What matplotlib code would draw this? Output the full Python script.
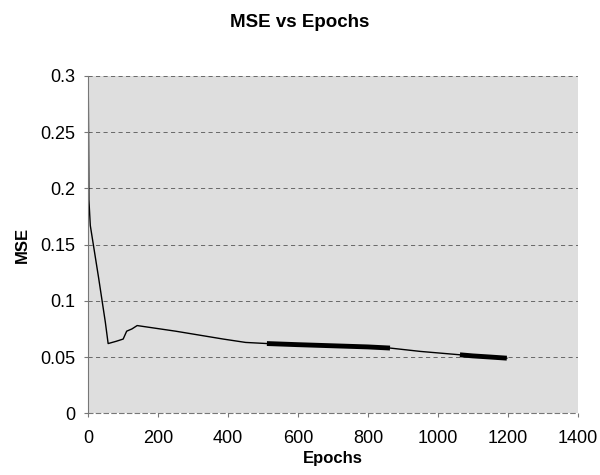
import matplotlib
matplotlib.use("Agg")
import matplotlib.pyplot as plt

plt.rcParams["font.family"] = ["Liberation Sans", "DejaVu Sans"]

# MSE vs Epochs
epochs = [0, 2, 6, 30, 49, 57, 80, 100, 110, 125, 140, 250, 386, 450, 511, 600, 700, 800, 863, 950, 1063, 1100, 1150, 1197]
mse = [0.300, 0.190, 0.167, 0.120, 0.081, 0.062, 0.064, 0.066, 0.073, 0.075, 0.078, 0.073, 0.066, 0.063, 0.062, 0.061, 0.060, 0.059, 0.058, 0.055, 0.052, 0.051, 0.050, 0.049]

# stretches where the trace is drawn as a heavy band in the original
band1 = (511, 863)
band2 = (1063, 1197)

xticks = [0, 200, 400, 600, 800, 1000, 1200, 1400]
yticks = [0, 0.05, 0.1, 0.15, 0.2, 0.25, 0.3]
ytick_labels = ["0", "0.05", "0.1", "0.15", "0.2", "0.25", "0.3"]

fig = plt.figure(figsize=(6, 4.75), dpi=100)
ax = fig.add_axes([0.147, 0.13, 0.816, 0.71])
ax.set_facecolor("#dedede")

ax.plot(epochs, mse, color="black", lw=1.0)
for lo, hi in (band1, band2):
    xs = [e for e in epochs if lo <= e <= hi]
    ys = [m for e, m in zip(epochs, mse) if lo <= e <= hi]
    ax.plot(xs, ys, color="black", lw=3.5, solid_capstyle="butt")

ax.set_xlim(0, 1400)
ax.set_ylim(0, 0.3)
ax.set_xticks(xticks)
ax.set_yticks(yticks)
ax.set_yticklabels(ytick_labels)
ax.grid(axis="y", color="#555555", ls=(0, (5, 4)), lw=0.6)
ax.set_axisbelow(True)

for s in ("top", "right"):
    ax.spines[s].set_visible(False)
ax.spines["left"].set_color("#777777")
ax.spines["bottom"].set_color("#777777")
ax.spines["bottom"].set_linestyle((0, (4, 3)))
ax.tick_params(labelsize=13, length=3, color="#777777")
ax.tick_params(axis="x", pad=9)
ax.tick_params(axis="y", pad=6)

ax.set_xlabel("Epochs", fontsize=12, fontweight="bold", labelpad=3)
ax.set_ylabel("MSE", fontsize=12, fontweight="bold", labelpad=8)
fig.suptitle("MSE vs Epochs", x=0.5, y=0.97, fontsize=13.5, fontweight="bold")

fig.savefig("out.png", dpi=100)
